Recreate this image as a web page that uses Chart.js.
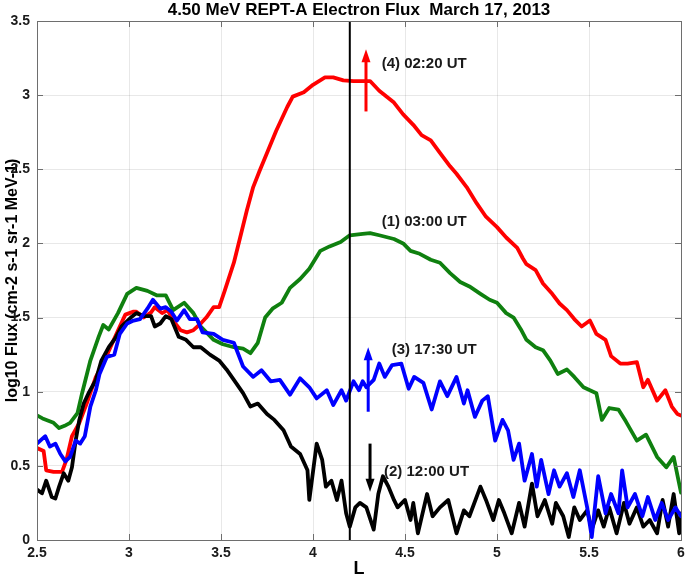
<!DOCTYPE html>
<html>
<head>
<meta charset="utf-8">
<script src="https://cdn.jsdelivr.net/npm/chart.js@4.4.1/dist/chart.umd.min.js"></script>
<style>
  html, body { margin: 0; padding: 0; background: #ffffff; }
  #wrap { width: 685px; height: 580px; }
</style>
</head>
<body>
<div id="wrap"><canvas id="c" width="685" height="580"></canvas></div>
<script>
// ---------- data ----------
const chartTitle = '4.50 MeV REPT-A Electron Flux  March 17, 2013';
const xAxisTitle = 'L';
const yAxisTitle = 'log10 Flux (cm-2 s-1 sr-1 MeV-1)';
const xTicks = [2.5, 3, 3.5, 4, 4.5, 5, 5.5, 6];
const yTicks = [0, 0.5, 1, 1.5, 2, 2.5, 3, 3.5];

// (1) 03:00 UT  (green)
const greenL = [2.50,2.53,2.59,2.62,2.65,2.68,2.72,2.745,2.79,2.835,2.86,2.89,2.94,2.99,3.04,3.10,3.15,3.20,3.24,3.30,3.35,3.39,3.46,3.51,3.57,3.62,3.66,3.70,3.74,3.78,3.83,3.875,3.93,3.98,4.04,4.09,4.15,4.20,4.27,4.31,4.36,4.44,4.49,4.53,4.58,4.64,4.69,4.745,4.80,4.85,4.91,4.96,5.00,5.05,5.09,5.13,5.16,5.21,5.25,5.29,5.33,5.38,5.42,5.47,5.505,5.54,5.57,5.61,5.66,5.70,5.76,5.81,5.87,5.92,5.96,6.00];
const greenFlux = [0.84,0.82,0.79,0.755,0.77,0.79,0.855,0.99,1.21,1.37,1.45,1.42,1.53,1.66,1.70,1.68,1.65,1.65,1.55,1.60,1.53,1.44,1.35,1.32,1.30,1.29,1.26,1.33,1.50,1.56,1.60,1.70,1.76,1.83,1.95,1.98,2.01,2.055,2.065,2.07,2.055,2.03,2.00,1.95,1.93,1.89,1.87,1.80,1.74,1.71,1.66,1.62,1.60,1.53,1.50,1.42,1.35,1.30,1.28,1.21,1.12,1.15,1.10,1.03,1.01,0.99,0.81,0.89,0.88,0.80,0.67,0.71,0.56,0.49,0.56,0.32];

// (4) 02:20 UT  (red)
const redL = [2.50,2.536,2.55,2.59,2.636,2.66,2.69,2.73,2.77,2.82,2.86,2.91,2.95,2.98,3.025,3.04,3.08,3.12,3.14,3.18,3.21,3.24,3.28,3.315,3.35,3.39,3.42,3.46,3.49,3.52,3.57,3.60,3.64,3.675,3.71,3.75,3.80,3.86,3.89,3.95,4.00,4.065,4.11,4.165,4.22,4.27,4.31,4.36,4.44,4.49,4.545,4.59,4.64,4.69,4.745,4.78,4.835,4.89,4.94,5.00,5.05,5.11,5.14,5.16,5.21,5.25,5.30,5.34,5.38,5.42,5.46,5.505,5.54,5.59,5.62,5.67,5.71,5.76,5.795,5.82,5.87,5.915,5.95,5.98,6.00];
const redFlux = [0.62,0.60,0.47,0.46,0.46,0.54,0.70,0.79,0.92,1.10,1.19,1.33,1.44,1.52,1.54,1.54,1.50,1.535,1.57,1.53,1.55,1.48,1.415,1.40,1.415,1.46,1.50,1.57,1.57,1.68,1.87,2.02,2.22,2.38,2.49,2.61,2.76,2.92,2.99,3.02,3.07,3.12,3.12,3.10,3.095,3.095,3.095,3.03,2.95,2.87,2.80,2.73,2.695,2.61,2.52,2.47,2.38,2.27,2.18,2.11,2.04,1.97,1.90,1.86,1.82,1.73,1.66,1.595,1.55,1.49,1.44,1.48,1.39,1.35,1.24,1.19,1.19,1.20,1.03,1.08,0.94,1.01,0.90,0.85,0.84];

// (3) 17:30 UT  (blue)
const blueL = [2.50,2.545,2.57,2.60,2.627,2.654,2.68,2.71,2.735,2.76,2.79,2.82,2.84,2.88,2.92,2.95,2.99,3.025,3.06,3.10,3.13,3.17,3.20,3.23,3.26,3.30,3.33,3.37,3.40,3.46,3.51,3.57,3.62,3.675,3.72,3.77,3.82,3.875,3.93,3.98,4.02,4.075,4.11,4.155,4.18,4.22,4.25,4.27,4.29,4.33,4.36,4.39,4.43,4.48,4.52,4.55,4.60,4.645,4.69,4.73,4.78,4.82,4.84,4.88,4.92,4.95,4.99,5.03,5.06,5.09,5.12,5.15,5.19,5.216,5.24,5.28,5.31,5.34,5.38,5.415,5.45,5.49,5.515,5.55,5.59,5.62,5.66,5.68,5.71,5.75,5.79,5.82,5.86,5.895,5.93,5.97,6.00];
const blueFlux = [0.65,0.70,0.63,0.65,0.58,0.53,0.56,0.67,0.65,0.70,0.90,1.01,1.12,1.235,1.25,1.39,1.46,1.48,1.49,1.56,1.62,1.56,1.57,1.54,1.48,1.55,1.49,1.49,1.40,1.39,1.35,1.33,1.17,1.10,1.145,1.07,1.08,0.98,1.09,1.03,0.955,1.01,0.91,1.01,0.94,1.07,1.01,1.07,1.03,1.08,1.19,1.10,1.18,1.19,1.02,1.10,1.06,0.88,1.07,0.97,1.10,0.92,1.01,0.83,0.94,0.97,0.67,0.81,0.74,0.54,0.65,0.40,0.58,0.36,0.54,0.31,0.47,0.36,0.45,0.29,0.47,0.22,0.02,0.43,0.18,0.31,0.18,0.47,0.22,0.31,0.16,0.29,0.135,0.25,0.135,0.22,0.16];

// (2) 12:00 UT  (black)
const blackL = [2.50,2.527,2.55,2.58,2.60,2.62,2.645,2.67,2.69,2.71,2.73,2.754,2.78,2.82,2.85,2.89,2.925,2.96,3.01,3.04,3.08,3.12,3.14,3.17,3.20,3.23,3.27,3.31,3.35,3.39,3.44,3.49,3.53,3.57,3.62,3.66,3.70,3.75,3.79,3.84,3.88,3.93,3.97,3.98,4.02,4.05,4.07,4.10,4.13,4.155,4.18,4.20,4.23,4.255,4.29,4.33,4.355,4.38,4.41,4.44,4.46,4.50,4.53,4.545,4.57,4.62,4.65,4.69,4.735,4.78,4.82,4.85,4.91,4.94,4.98,5.01,5.04,5.08,5.12,5.15,5.19,5.22,5.26,5.30,5.32,5.36,5.39,5.42,5.45,5.49,5.515,5.55,5.58,5.61,5.65,5.69,5.72,5.76,5.795,5.83,5.87,5.90,5.93,5.96,5.99,6.00];
const blackFlux = [0.34,0.315,0.40,0.29,0.28,0.36,0.45,0.40,0.49,0.67,0.81,0.92,0.99,1.08,1.21,1.30,1.36,1.44,1.50,1.53,1.51,1.51,1.44,1.46,1.51,1.49,1.37,1.35,1.30,1.30,1.25,1.21,1.15,1.08,0.99,0.90,0.92,0.85,0.81,0.74,0.63,0.58,0.47,0.27,0.65,0.54,0.36,0.40,0.27,0.40,0.18,0.09,0.22,0.25,0.22,0.07,0.31,0.43,0.36,0.27,0.22,0.27,0.135,0.25,0.045,0.31,0.16,0.22,0.27,0.045,0.20,0.16,0.36,0.27,0.135,0.27,0.18,0.045,0.25,0.09,0.38,0.16,0.27,0.11,0.25,0.16,0.02,0.22,0.135,0.20,0.07,0.20,0.09,0.22,0.045,0.25,0.11,0.22,0.09,0.135,0.045,0.27,0.09,0.31,0.045,0.18];

// annotations (data coordinates)
const markerL = 4.2;
const arrowL    = [4.288, 4.30, 4.31];
const arrowFrom = [2.89, 0.865, 0.65];
const arrowTo   = [3.31, 1.30, 0.325];
const arrowColor = ['#ff0000', '#0000ff', '#000000'];
const labelText = ['(4) 02:20 UT', '(1) 03:00 UT', '(3) 17:30 UT', '(2) 12:00 UT'];
const labelL    = [4.373, 4.373, 4.428, 4.386];
const labelFlux = [3.21, 2.145, 1.28, 0.46];

// ---------- chart ----------
const FONT = "'Liberation Sans', Arial, Helvetica, sans-serif";
const pts = (xs, ys) => xs.map((x, i) => ({ x: x, y: ys[i] }));
const mkSet = (label, xs, ys, color, order) => ({
  label, data: pts(xs, ys), borderColor: color, backgroundColor: color,
  borderWidth: 3.8, pointRadius: 0, tension: 0, order,
  borderJoinStyle: 'round', borderCapStyle: 'round', fill: false
});

const overlay = {
  id: 'overlay',
  afterDatasetsDraw(chart) {
    const ctx = chart.ctx, xs = chart.scales.x, ys = chart.scales.y, a = chart.chartArea;
    ctx.save();
    // vertical marker line
    ctx.strokeStyle = '#000'; ctx.lineWidth = 2;
    const mx = xs.getPixelForValue(markerL);
    ctx.beginPath(); ctx.moveTo(mx, ys.getPixelForValue(yTicks[0])); ctx.lineTo(mx, ys.getPixelForValue(yTicks[yTicks.length-1])); ctx.stroke();
    // arrows
    arrowL.forEach((L, i) => {
      const x = xs.getPixelForValue(L);
      const y0 = ys.getPixelForValue(arrowFrom[i]);
      const y1 = ys.getPixelForValue(arrowTo[i]);
      const dir = y1 < y0 ? -1 : 1;
      const head = 13, hw = 4.5;
      ctx.strokeStyle = arrowColor[i]; ctx.fillStyle = arrowColor[i]; ctx.lineWidth = 3;
      ctx.beginPath(); ctx.moveTo(x, y0); ctx.lineTo(x, y1 - dir * head * 0.8); ctx.stroke();
      ctx.beginPath(); ctx.moveTo(x, y1); ctx.lineTo(x - hw, y1 - dir * head); ctx.lineTo(x + hw, y1 - dir * head); ctx.closePath(); ctx.fill();
    });
    // labels
    ctx.fillStyle = '#1a1a1a'; ctx.font = 'bold 15px ' + FONT;
    ctx.textAlign = 'left'; ctx.textBaseline = 'middle';
    labelText.forEach((t, i) => ctx.fillText(t, xs.getPixelForValue(labelL[i]), ys.getPixelForValue(labelFlux[i])));
    // axes box with inward ticks
    ctx.strokeStyle = '#6e6e6e'; ctx.lineWidth = 1;
    ctx.strokeRect(Math.round(a.left) + 0.5, Math.round(a.top) + 0.5, Math.round(a.right - a.left), Math.round(a.bottom - a.top));
    const tl = 6;
    ctx.beginPath();
    xTicks.forEach(v => { const x = Math.round(xs.getPixelForValue(v)) + 0.5;
      ctx.moveTo(x, a.bottom); ctx.lineTo(x, a.bottom - tl); ctx.moveTo(x, a.top); ctx.lineTo(x, a.top + tl); });
    yTicks.forEach(v => { const y = Math.round(ys.getPixelForValue(v)) + 0.5;
      ctx.moveTo(a.left, y); ctx.lineTo(a.left + tl, y); ctx.moveTo(a.right, y); ctx.lineTo(a.right - tl, y); });
    ctx.stroke();
    // title
    ctx.fillStyle = '#000'; ctx.font = 'bold 17px ' + FONT; ctx.textAlign = 'center'; ctx.textBaseline = 'middle';
    ctx.fillText(chartTitle, (a.left + a.right) / 2, 10);
    ctx.restore();
  }
};

new Chart(document.getElementById('c'), {
  type: 'line',
  data: { datasets: [
    mkSet('(1) 03:00 UT', greenL, greenFlux, '#0f800f', 4),
    mkSet('(4) 02:20 UT', redL, redFlux, '#ff0000', 3),
    mkSet('(2) 12:00 UT', blackL, blackFlux, '#000000', 2),
    mkSet('(3) 17:30 UT', blueL, blueFlux, '#0000ff', 1)
  ]},
  options: {
    responsive: false, devicePixelRatio: 1, animation: false,
    parsing: true,
    layout: { padding: { top: 21, right: 4, left: 0, bottom: 0 } },
    plugins: { legend: { display: false }, tooltip: { enabled: false }, title: { display: false } },
    scales: {
      x: {
        type: 'linear', min: xTicks[0], max: xTicks[xTicks.length-1],
        afterBuildTicks: s => { s.ticks = xTicks.map(v => ({ value: v })); },
        afterFit: s => { s.height = 40; s.paddingLeft = 0; s.paddingRight = 0; },
        grid: { color: 'rgba(0,0,0,0.09)', drawTicks: false, lineWidth: 1 },
        border: { display: false },
        ticks: { color: '#1a1a1a', font: { family: FONT, size: 14, weight: 'bold' }, padding: 5, maxRotation: 0, callback: v => String(v) },
        title: { display: true, text: xAxisTitle, color: '#000', font: { family: FONT, size: 18, weight: 'bold' }, padding: { top: 0, bottom: 0 } }
      },
      y: {
        type: 'linear', min: yTicks[0], max: yTicks[yTicks.length-1],
        afterBuildTicks: s => { s.ticks = yTicks.map(v => ({ value: v })); },
        afterFit: s => { s.width = 37; s.paddingTop = 0; s.paddingBottom = 0; },
        grid: { color: 'rgba(0,0,0,0.09)', drawTicks: false, lineWidth: 1 },
        border: { display: false },
        ticks: { color: '#1a1a1a', font: { family: FONT, size: 14, weight: 'bold' }, padding: 7, callback: v => String(v) },
        title: { display: true, text: yAxisTitle, color: '#000', font: { family: FONT, size: 16, weight: 'bold' }, padding: { top: 3, bottom: 0 } }
      }
    }
  },
  plugins: [overlay]
});
</script>
</body>
</html>
